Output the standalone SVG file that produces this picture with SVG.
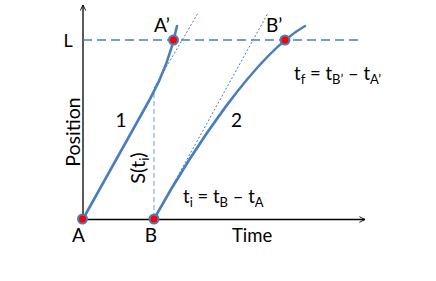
<svg xmlns="http://www.w3.org/2000/svg" width="436" height="281" viewBox="0 0 436 281">
<defs>
<marker id="arr" viewBox="0 0 10 10" refX="9" refY="5" markerWidth="7" markerHeight="7" orient="auto" markerUnits="userSpaceOnUse">
<path d="M1,1 L9,5 L1,9" fill="none" stroke="#000" stroke-width="1.3"/>
</marker>
<style>
.t{font-family:Lato,"Liberation Sans",sans-serif;fill:#000;}
.axis{stroke:#000;stroke-width:1.3;fill:none;}
.curve{stroke:#4A7EBB;stroke-width:2.6;fill:none;stroke-linecap:round;}
.tan{stroke:#4A7EBB;stroke-width:1;fill:none;stroke-dasharray:2 2;}
.lline{stroke:#4A7EBB;stroke-width:1.3;fill:none;stroke-dasharray:9 5;}
.sline{stroke:#95B3D7;stroke-width:1.3;fill:none;stroke-dasharray:5 3;}
.pt{fill:#FF0000;stroke:#4A7EBB;stroke-width:2;}
</style>
</defs>
<g id="axes">
<line class="axis" x1="83" y1="219.5" x2="83" y2="5" marker-end="url(#arr)"/>
<line class="axis" x1="83" y1="219.5" x2="365" y2="219.5" marker-end="url(#arr)"/>
<text class="t" x="80" y="132" font-size="19.5" text-anchor="middle" transform="rotate(-90 80 132)">Position</text>
<text class="t" x="232" y="242" font-size="18.5">Time</text>
</g>
<g id="connectors">
<line class="lline" x1="83" y1="40" x2="358" y2="40"/>
<line class="sline" x1="154" y1="93" x2="154" y2="219"/>
<line class="tan" x1="154" y1="88" x2="198" y2="13"/>
<line class="tan" x1="154" y1="219" x2="268" y2="13"/>
<path class="curve" d="M83,219 L150,99 C160,81 170,60 177,26"/>
<path class="curve" d="M154,219 C193,149 255,55 305,26"/>
</g>
<g id="node-A">
<circle class="pt" cx="82.5" cy="219" r="4.5"/>
<text class="t" x="78.5" y="242" font-size="19" text-anchor="middle">A</text>
</g>
<g id="node-B">
<circle class="pt" cx="154" cy="219" r="4.5"/>
<text class="t" x="151" y="242" font-size="19" text-anchor="middle">B</text>
</g>
<g id="node-A2">
<circle class="pt" cx="173.5" cy="40" r="4.5"/>
<text class="t" x="154" y="32" font-size="19">A’</text>
</g>
<g id="node-B2">
<circle class="pt" cx="285" cy="40" r="4.5"/>
<text class="t" x="266" y="32" font-size="19">B’</text>
</g>
<g id="labels">
<text class="t" x="68" y="47" font-size="18" text-anchor="middle">L</text>
<text class="t" x="121" y="127" font-size="19" text-anchor="middle">1</text>
<text class="t" x="236.5" y="127" font-size="19" text-anchor="middle">2</text>
<text class="t" x="145" y="168" font-size="20" text-anchor="middle" transform="rotate(-90 145 168)">S(t<tspan font-size="13" dy="4">i</tspan><tspan dy="-4">)</tspan></text>
<text class="t" x="183" y="203" font-size="18.5">t<tspan font-size="13" dy="4">i</tspan><tspan dy="-4"> = t</tspan><tspan font-size="13" dy="4">B</tspan><tspan dy="-4"> – t</tspan><tspan font-size="13" dy="4">A</tspan></text>
<text class="t" x="294" y="80" font-size="18.5">t<tspan font-size="13" dy="4">f</tspan><tspan dy="-4"> = t</tspan><tspan font-size="13" dy="4">B’</tspan><tspan dy="-4"> – t</tspan><tspan font-size="13" dy="4">A’</tspan></text>
</g>
</svg>
